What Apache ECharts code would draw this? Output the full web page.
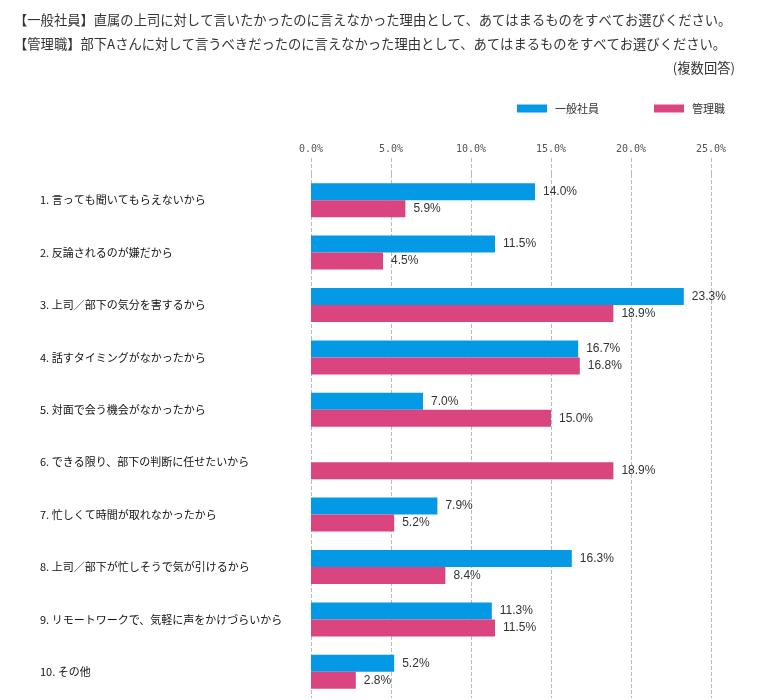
<!DOCTYPE html>
<html>
<head>
<meta charset="utf-8">
<script src="https://cdn.jsdelivr.net/npm/echarts@6/dist/echarts.min.js"></script>
<style>
html,body{margin:0;padding:0;background:#fff;}
#main{width:757px;height:700px;}
</style>
</head>
<body>
<div id="main"></div>
<script>
const titleLines = [
  '【一般社員】直属の上司に対して言いたかったのに言えなかった理由として、あてはまるものをすべてお選びください。',
  '【管理職】部下Aさんに対して言うべきだったのに言えなかった理由として、あてはまるものをすべてお選びください。'
];
const noteText = '(複数回答)';
const categories = [
  '1. 言っても聞いてもらえないから',
  '2. 反論されるのが嫌だから',
  '3. 上司／部下の気分を害するから',
  '4. 話すタイミングがなかったから',
  '5. 対面で会う機会がなかったから',
  '6. できる限り、部下の判断に任せたいから',
  '7. 忙しくて時間が取れなかったから',
  '8. 上司／部下が忙しそうで気が引けるから',
  '9. リモートワークで、気軽に声をかけづらいから',
  '10. その他'
];
const seriesNames = ['一般社員', '管理職'];
const staffValues = [14.0, 11.5, 23.3, 16.7, 7.0, '-', 7.9, 16.3, 11.3, 5.2];
const managerValues = [5.9, 4.5, 18.9, 16.8, 15.0, 18.9, 5.2, 8.4, 11.5, 2.8];
const xTicks = { min: 0, max: 25, interval: 5 };

const CJK = "'Noto Sans CJK JP', 'Noto Sans', sans-serif";
const chart = echarts.init(document.getElementById('main'), null, { renderer: 'canvas' });
const labelCfg = {
  show: true,
  position: 'right',
  distance: 8,
  fontSize: 12,
  fontFamily: "'Liberation Sans Narrow', 'Liberation Sans', sans-serif",
  color: '#333',
  formatter: p => Number(p.value).toFixed(1) + '%'
};
chart.setOption({
  animation: false,
  textStyle: { fontFamily: CJK },
  graphic: [
    { type: 'text', left: 14, top: 13, style: { text: titleLines[0], fontSize: 13.3, fontFamily: CJK, fill: '#333' } },
    { type: 'text', left: 14, top: 37, style: { text: titleLines[1], fontSize: 13.3, fontFamily: CJK, fill: '#333' } },
    { type: 'text', right: 22, top: 61, style: { text: noteText, fontSize: 13.3, fontFamily: CJK, fill: '#333' } }
  ],
  legend: {
    left: 517,
    top: 103,
    padding: 0,
    itemWidth: 30,
    itemHeight: 8,
    itemGap: 55,
    icon: 'rect',
    textStyle: { fontSize: 11, color: '#333', fontFamily: CJK, padding: [0, 0, 0, 3] },
    data: seriesNames
  },
  grid: { left: 311, right: 46, top: 174, bottom: 2, containLabel: false },
  xAxis: {
    type: 'value',
    position: 'top',
    min: xTicks.min,
    max: xTicks.max,
    interval: xTicks.interval,
    axisLine: { show: false },
    axisTick: { show: true, length: 16, lineStyle: { type: 'dashed', color: '#bbb' } },
    axisLabel: {
      margin: 20,
      fontSize: 10,
      fontFamily: "'DejaVu Sans Mono', monospace",
      color: '#555',
      formatter: v => v.toFixed(1) + '%'
    },
    splitLine: { show: true, lineStyle: { type: 'dashed', color: '#bbb' } }
  },
  yAxis: {
    type: 'category',
    inverse: true,
    data: categories,
    axisLine: { show: false },
    axisTick: { show: false },
    axisLabel: { align: 'left', margin: 271, fontSize: 11, color: '#111', fontFamily: CJK }
  },
  series: [
    {
      name: seriesNames[0],
      type: 'bar',
      data: staffValues,
      barWidth: 17,
      barGap: '0%',
      itemStyle: { color: '#0399e5' },
      label: labelCfg
    },
    {
      name: seriesNames[1],
      type: 'bar',
      data: managerValues,
      barWidth: 17,
      barGap: '0%',
      itemStyle: { color: '#da4580' },
      label: labelCfg
    }
  ]
});
</script>
</body>
</html>
